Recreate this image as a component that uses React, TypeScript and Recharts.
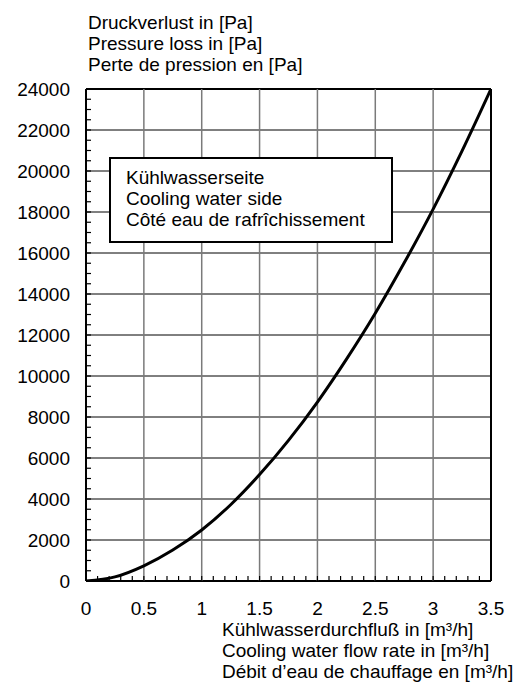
import React from "react";
import { LineChart, Line, XAxis, YAxis, ReferenceLine } from "recharts";

const flowRates = [0, 0.25, 0.5, 0.75, 1.0, 1.25, 1.5, 1.75, 2.0, 2.25, 2.5, 2.75, 3.0, 3.25, 3.5];
const pressureLoss = [0, 200, 740, 1510, 2490, 3720, 5190, 6860, 8730, 10810, 13060, 15520, 18140, 20980, 24000];

const xMajorTicks = [0, 0.5, 1, 1.5, 2, 2.5, 3, 3.5];
const xTickLabels = ["0", "0.5", "1", "1.5", "2", "2.5", "3", "3.5"];
const yMajorTicks = [0, 2000, 4000, 6000, 8000, 10000, 12000, 14000, 16000, 18000, 20000, 22000, 24000];
const xMinorTicks = Array.from({ length: 36 }, (_, i) => i / 10);
const yMinorTicks = Array.from({ length: 49 }, (_, i) => i * 500);

const yTitle = ["Druckverlust in [Pa]", "Pressure loss in [Pa]", "Perte de pression en [Pa]"];
const xTitle = ["Kühlwasserdurchfluß in [m³/h]", "Cooling water flow rate in [m³/h]", "Débit d’eau de chauffage en [m³/h]"];
const legendLines = ["Kühlwasserseite", "Cooling water side", "Côté eau de rafrîchissement"];

const data = flowRates.map((x, i) => ({ x, y: pressureLoss[i] }));

const FONT = "'Liberation Sans', Arial, sans-serif";
const FS = 19;
const PLOT_LEFT = 86;
const PLOT_BOTTOM = 581;

const XTick = (props: any) => {
  const { x, payload } = props;
  const v = payload.value;
  const idx = xMajorTicks.findIndex((t) => Math.abs(t - v) < 1e-6);
  return (
    <g>
      <line x1={x} x2={x} y1={PLOT_BOTTOM} y2={PLOT_BOTTOM - 5} stroke="#000" strokeWidth={1.2} />
      {idx >= 0 && (
        <text x={x} y={608} textAnchor="middle" dominantBaseline="central" fontSize={FS} fontFamily={FONT} fill="#000">
          {xTickLabels[idx]}
        </text>
      )}
    </g>
  );
};

const YTick = (props: any) => {
  const { y, payload } = props;
  const v = payload.value;
  const major = yMajorTicks.includes(v);
  return (
    <g>
      <line x1={PLOT_LEFT} x2={PLOT_LEFT + 5} y1={y} y2={y} stroke="#000" strokeWidth={1.2} />
      {major && (
        <text x={PLOT_LEFT - 16} y={y} textAnchor="end" dominantBaseline="central" fontSize={FS} fontFamily={FONT} fill="#000">
          {String(v)}
        </text>
      )}
    </g>
  );
};

export default function App() {
  return (
    <div style={{ position: "absolute", left: 0, top: 0, width: 517, height: 684, background: "#fff", fontFamily: FONT }}>
      <LineChart width={517} height={684} data={data} margin={{ top: 89, right: 26, bottom: 73, left: 0 }}>
        <XAxis
          dataKey="x"
          type="number"
          domain={[0, 3.5]}
          ticks={xMinorTicks}
          interval={0}
          tick={<XTick />}
          tickLine={false}
          axisLine={false}
          height={30}
          allowDataOverflow
        />
        <YAxis
          type="number"
          domain={[0, 24000]}
          ticks={yMinorTicks}
          interval={0}
          tick={<YTick />}
          tickLine={false}
          axisLine={false}
          width={86}
          allowDataOverflow
        />
        {yMajorTicks.map((v) => (
          <ReferenceLine key={"h" + v} y={v} stroke="#000" strokeWidth={v === 0 || v === 24000 ? 2 : 1} />
        ))}
        {xMajorTicks.map((v) => (
          <ReferenceLine
            key={"v" + v}
            x={v}
            stroke={v === 0 || v === 3.5 ? "#000" : "#7a7a7a"}
            strokeWidth={v === 0 || v === 3.5 ? 2 : 1.5}
          />
        ))}
        <Line dataKey="y" type="monotone" stroke="#000" strokeWidth={3} dot={false} isAnimationActive={false} />
      </LineChart>

      <div style={{ position: "absolute", left: 88, top: 12, fontSize: FS, lineHeight: "21px", color: "#000", whiteSpace: "nowrap" }}>
        {yTitle.map((t) => (
          <div key={t}>{t}</div>
        ))}
      </div>

      <div style={{ position: "absolute", left: 222, top: 620, fontSize: FS, lineHeight: "19px", color: "#000", whiteSpace: "nowrap" }}>
        {xTitle.map((t) => (
          <div key={t} style={{ marginBottom: 2 }}>{t}</div>
        ))}
      </div>

      <div
        style={{
          position: "absolute",
          left: 109,
          top: 157,
          width: 284,
          height: 86,
          boxSizing: "border-box",
          border: "2px solid #000",
          background: "#fff",
          paddingTop: 8,
          paddingLeft: 15,
          fontSize: FS,
          lineHeight: "21px",
          color: "#000",
          whiteSpace: "nowrap",
        }}
      >
        {legendLines.map((t) => (
          <div key={t}>{t}</div>
        ))}
      </div>
    </div>
  );
}
